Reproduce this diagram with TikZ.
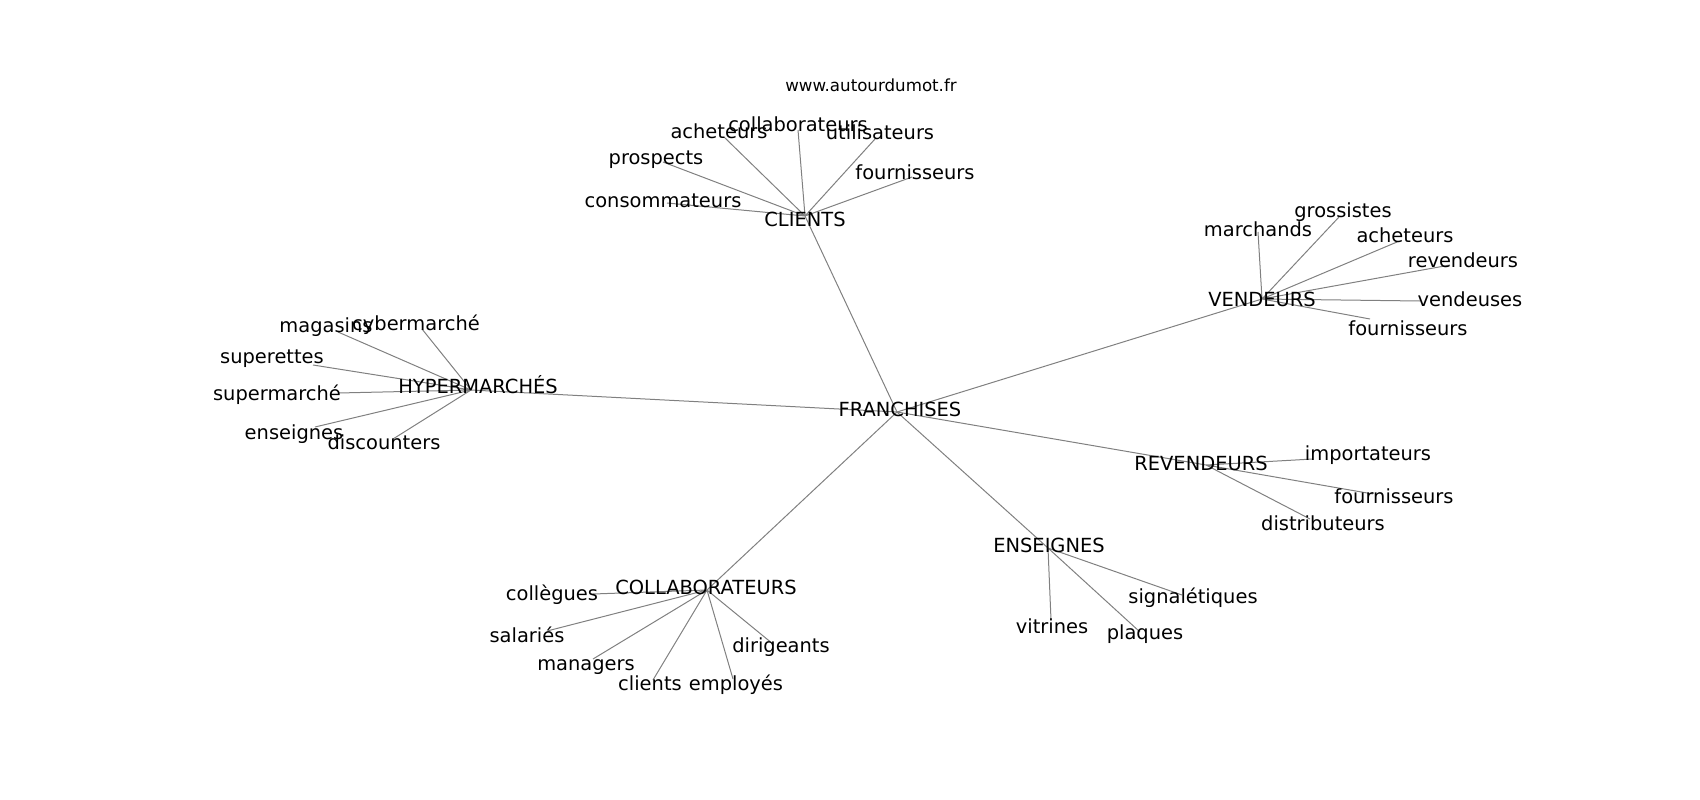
\documentclass[tikz,border=0pt]{standalone}
\usepackage{fontspec}
\setmainfont{DejaVu Sans}
\begin{document}
\begin{tikzpicture}[x=1pt,y=-1pt,
  lbl/.style={inner sep=0pt,text height=0.73em,text depth=0pt,yshift=-2.5pt,font=\fontsize{19.44}{23}\selectfont},
  link/.style={draw=black!50,line width=1pt}]
\useasboundingbox (0,-2) rectangle (1700,798);
% hubs
\coordinate(fra) at (897,410);
\coordinate(cli) at (805,214);
\coordinate(ven) at (1262,297);
\coordinate(hyp) at (471,388);
\coordinate(col) at (707,588);
\coordinate(ens) at (1048,546);
\coordinate(rev) at (1206,463);
% leaves
\coordinate(cli1) at (724,135);
\coordinate(cli2) at (798,128);
\coordinate(cli3) at (875,137);
\coordinate(cli4) at (663,160);
\coordinate(cli5) at (912,175);
\coordinate(cli6) at (667,201);
\coordinate(ven1) at (1258,230);
\coordinate(ven2) at (1339,215);
\coordinate(ven3) at (1397,240);
\coordinate(ven4) at (1450,263);
\coordinate(ven5) at (1420,299);
\coordinate(ven6) at (1370,317);
\coordinate(hyp1) at (338,330);
\coordinate(hyp2) at (422,327);
\coordinate(hyp3) at (313,363);
\coordinate(hyp4) at (338,391);
\coordinate(hyp5) at (315,425);
\coordinate(hyp6) at (393,437);
\coordinate(col1) at (593,592);
\coordinate(col2) at (547,629);
\coordinate(col3) at (593,657);
\coordinate(col4) at (653,678);
\coordinate(col5) at (733,677);
\coordinate(col6) at (773,642);
\coordinate(ens1) at (1182,593);
\coordinate(ens2) at (1051,618);
\coordinate(ens3) at (1140,630);
\coordinate(rev1) at (1313,457);
\coordinate(rev2) at (1373,492);
\coordinate(rev3) at (1310,517);
% links
\path[link] (fra) -- (cli);
\path[link] (fra) -- (ven);
\path[link] (fra) -- (hyp);
\path[link] (fra) -- (col);
\path[link] (fra) -- (ens);
\path[link] (fra) -- (rev);
\path[link] (cli) -- (cli1) (cli) -- (cli2) (cli) -- (cli3) (cli) -- (cli4) (cli) -- (cli5) (cli) -- (cli6);
\path[link] (ven) -- (ven1) (ven) -- (ven2) (ven) -- (ven3) (ven) -- (ven4) (ven) -- (ven5) (ven) -- (ven6);
\path[link] (hyp) -- (hyp1) (hyp) -- (hyp2) (hyp) -- (hyp3) (hyp) -- (hyp4) (hyp) -- (hyp5) (hyp) -- (hyp6);
\path[link] (col) -- (col1) (col) -- (col2) (col) -- (col3) (col) -- (col4) (col) -- (col5) (col) -- (col6);
\path[link] (ens) -- (ens1) (ens) -- (ens2) (ens) -- (ens3);
\path[link] (rev) -- (rev1) (rev) -- (rev2) (rev) -- (rev3);
% labels
\node(url) at (871,83)[inner sep=0pt,text height=0.73em,text depth=0pt,yshift=-2.5pt,font=\fontsize{16.67}{20}\selectfont]{www.autourdumot.fr};
\node(fral) at (900,408)[lbl]{FRANCHISES};
\node(clil) at (805,218)[lbl]{CLIENTS};
\node(venl) at (1262,298)[lbl]{VENDEURS};
\node(hypl) at (478,385)[lbl]{HYPERMARCHÉS};
\node(coll) at (706,586)[lbl]{COLLABORATEURS};
\node(ensl) at (1049,544)[lbl]{ENSEIGNES};
\node(revl) at (1201,462)[lbl]{REVENDEURS};
\node(cli1l) at (719,130)[lbl]{acheteurs};
\node(cli2l) at (798,123)[lbl]{collaborateurs};
\node(cli3l) at (880,131)[lbl]{utilisateurs};
\node(cli4l) at (656,156)[lbl]{prospects};
\node(cli5l) at (915,171)[lbl]{fournisseurs};
\node(cli6l) at (663,199)[lbl]{consommateurs};
\node(ven1l) at (1258,228)[lbl]{marchands};
\node(ven2l) at (1343,209)[lbl]{grossistes};
\node(ven3l) at (1405,234)[lbl]{acheteurs};
\node(ven4l) at (1463,259)[lbl]{revendeurs};
\node(ven5l) at (1470,298)[lbl]{vendeuses};
\node(ven6l) at (1408,327)[lbl]{fournisseurs};
\node(hyp1l) at (326,324)[lbl]{magasins};
\node(hyp2l) at (416,322)[lbl]{cybermarché};
\node(hyp3l) at (272,355)[lbl]{superettes};
\node(hyp4l) at (277,392)[lbl]{supermarché};
\node(hyp5l) at (294,431)[lbl]{enseignes};
\node(hyp6l) at (384,441)[lbl]{discounters};
\node(col1l) at (552,592)[lbl]{collègues};
\node(col2l) at (527,634)[lbl]{salariés};
\node(col3l) at (586,662)[lbl]{managers};
\node(col4l) at (650,682)[lbl]{clients};
\node(col5l) at (736,682)[lbl]{employés};
\node(col6l) at (781,644)[lbl]{dirigeants};
\node(ens1l) at (1193,595)[lbl]{signalétiques};
\node(ens2l) at (1052,625)[lbl]{vitrines};
\node(ens3l) at (1145,631)[lbl]{plaques};
\node(rev1l) at (1368,452)[lbl]{importateurs};
\node(rev2l) at (1394,495)[lbl]{fournisseurs};
\node(rev3l) at (1323,522)[lbl]{distributeurs};
\end{tikzpicture}
\end{document}
